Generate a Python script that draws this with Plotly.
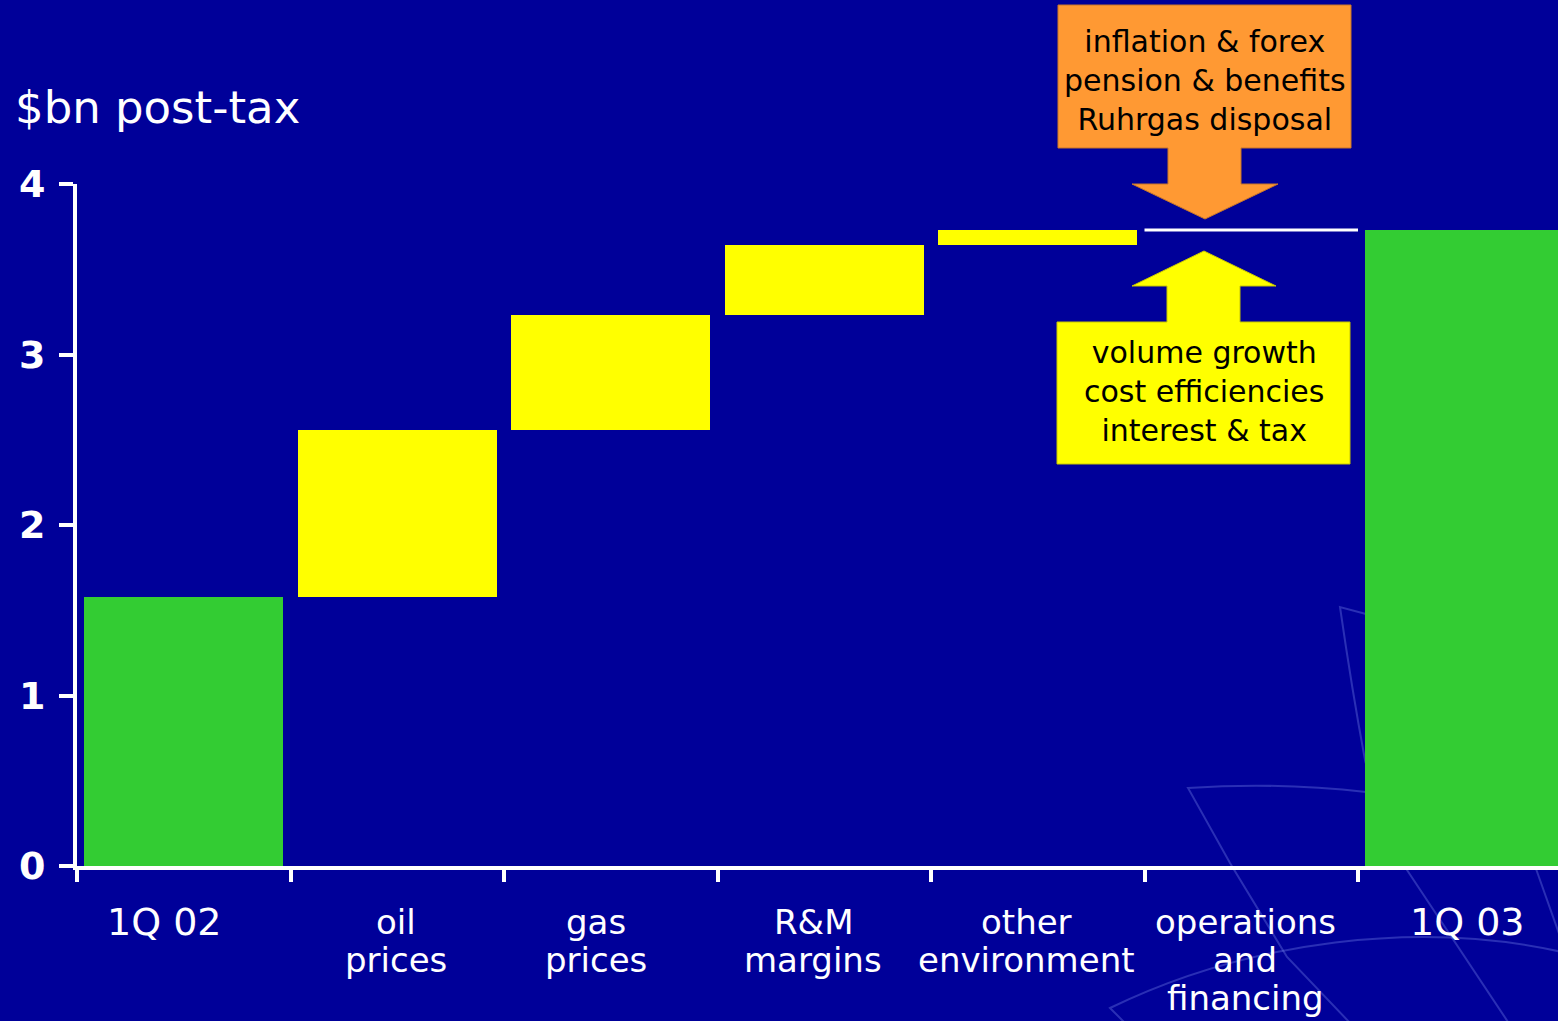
import plotly.graph_objects as go

# ---- data: quarterly result bridge, $bn post-tax ----
categories = ["1Q 02", "oil<br>prices", "gas<br>prices", "R&M<br>margins",
              "other<br>environment", "operations<br>and<br>financing", "1Q 03"]
changes = [1.58, 0.98, 0.67, 0.41, 0.09, 0.00, 3.73]
step_kind = ["total", "step", "step", "step", "step", "step", "total"]
y_ticks = [0, 1, 2, 3, 4]

negative_factors = ["inflation & forex", "pension & benefits", "Ruhrgas disposal"]
positive_factors = ["volume growth", "cost efficiencies", "interest & tax"]

# ---- styling ----
BG = "#000099"
GREEN = "#33CC33"
YELLOW = "#FFFF00"
ORANGE = "#FF9933"
FONT = "DejaVu Sans"
W, H = 1558, 1021
L, R, T, B = 77, 1558, 184, 866          # plot area in page pixels
label_nudge_px = [-19, -1, -15, -11, -11, -6, 3]


def px(x):
    return (x - L) / (R - L)


def py(y):
    return (B - y) / (B - T)


# floating bar geometry from the running total
bases, heights, colors = [], [], []
running = 0.0
for kind, v in zip(step_kind, changes):
    if kind == "total":
        bases.append(0.0)
        heights.append(v)
        colors.append(GREEN)
        running = v
    else:
        bases.append(running)
        heights.append(v)
        colors.append(YELLOW)
        running += v

xs = list(range(len(categories)))
bar_x = [x for x, h in zip(xs, heights) if h > 0]
bar_h = [h for h in heights if h > 0]
bar_b = [b for b, h in zip(bases, heights) if h > 0]
bar_c = [c for c, h in zip(colors, heights) if h > 0]

fig = go.Figure()
fig.add_trace(go.Bar(
    x=bar_x, y=bar_h, base=bar_b, width=0.93,
    marker=dict(color=bar_c, line=dict(width=0)),
    hoverinfo="skip", showlegend=False,
))

# zero-change step drawn as a level line
for x, h, b, k in zip(xs, heights, bases, step_kind):
    if k == "step" and h == 0:
        fig.add_trace(go.Scatter(
            x=[x - 0.5, x + 0.5], y=[b, b], mode="lines",
            line=dict(color="white", width=3),
            hoverinfo="skip", showlegend=False,
        ))

shapes = []

# faint background emblem strokes (lower right)
emblem = [
    "M 1366 614 L 1340 607 Q 1352 690 1365 760 Q 1380 820 1407 870 L 1510 1025",
    "M 1366 792 Q 1280 782 1188 788 L 1230 863 L 1287 957 L 1352 1025",
    "M 1127 1025 L 1110 1008 C 1250 940 1420 920 1562 952",
    "M 1535 866 L 1562 942",
]
for d in emblem:
    # convert pixel path to paper coordinates
    toks = d.split()
    out, coord = [], []
    for t in toks:
        if t.isalpha():
            out.append(t)
        else:
            coord.append(float(t))
            if len(coord) == 2:
                out.append(f"{px(coord[0]):.5f},{py(coord[1]):.5f}")
                coord = []
    shapes.append(dict(type="path", xref="paper", yref="paper", path=" ".join(out),
                       line=dict(color="rgba(120,135,235,0.35)", width=2),
                       layer="below"))


def poly(points, fill, edge):
    path = "M " + " L ".join(f"{px(x):.5f},{py(y):.5f}" for x, y in points) + " Z"
    return dict(type="path", xref="paper", yref="paper", path=path,
                fillcolor=fill, line=dict(color=edge, width=1), layer="above")


# downward callout (orange)
shapes.append(poly([(1058, 5), (1351, 5), (1351, 148), (1241, 148), (1241, 184),
                    (1278, 184), (1205, 219), (1132, 184), (1168, 184),
                    (1168, 148), (1058, 148)], ORANGE, "#C8762A"))
# upward callout (yellow)
shapes.append(poly([(1057, 322), (1167, 322), (1167, 286), (1132, 286),
                    (1204, 251), (1276, 286), (1240, 286), (1240, 322),
                    (1350, 322), (1350, 464), (1057, 464)], YELLOW, "#C8C800"))

annotations = [
    dict(text="$bn post-tax", xref="paper", yref="paper", x=px(13), y=py(107),
         xanchor="left", yanchor="middle", showarrow=False,
         font=dict(family=FONT, size=45, color="white")),
    dict(text="<br>".join(negative_factors), xref="paper", yref="paper",
         x=px(1205), y=py(81), xanchor="center", yanchor="middle", showarrow=False,
         font=dict(family=FONT, size=30, color="black")),
    dict(text="<br>".join(positive_factors), xref="paper", yref="paper",
         x=px(1204), y=py(391), xanchor="center", yanchor="middle", showarrow=False,
         font=dict(family=FONT, size=30, color="black")),
]

# category labels, one line at a time for tight leading
for i, (cat, kind) in enumerate(zip(categories, step_kind)):
    lines = cat.split("<br>")
    size = 38 if kind == "total" else 34
    for j, line in enumerate(lines):
        annotations.append(dict(
            text=line, xref="x", yref="paper", x=i, y=0,
            xanchor="center", yanchor="middle", showarrow=False,
            xshift=label_nudge_px[i], yshift=-(56 + 38 * j),
            font=dict(family=FONT, size=size, color="white")))

fig.update_layout(
    width=W, height=H,
    margin=dict(l=L, r=W - R, t=T, b=H - B, pad=0),
    paper_bgcolor=BG, plot_bgcolor="rgba(0,0,0,0)",
    bargap=0, showlegend=False,
    shapes=shapes, annotations=annotations,
    xaxis=dict(
        range=[-0.5, -0.5 + (R - L) / 213.5], showgrid=False, zeroline=False,
        showline=True, linecolor="white", linewidth=4,
        tickmode="array", tickvals=[x - 0.5 for x in xs],
        ticks="outside", ticklen=12, tickwidth=4, tickcolor="white",
        showticklabels=False, fixedrange=True,
    ),
    yaxis=dict(
        range=[0, 4], showgrid=False, zeroline=False,
        showline=True, linecolor="white", linewidth=4,
        tickmode="array", tickvals=y_ticks, ticktext=[str(v) for v in y_ticks],
        ticks="outside", ticklen=14, tickwidth=4, tickcolor="white",
        tickfont=dict(family=FONT, size=38, color="white", weight="bold"),
        ticklabelstandoff=6, fixedrange=True,
    ),
)

fig.write_html("out.html")
